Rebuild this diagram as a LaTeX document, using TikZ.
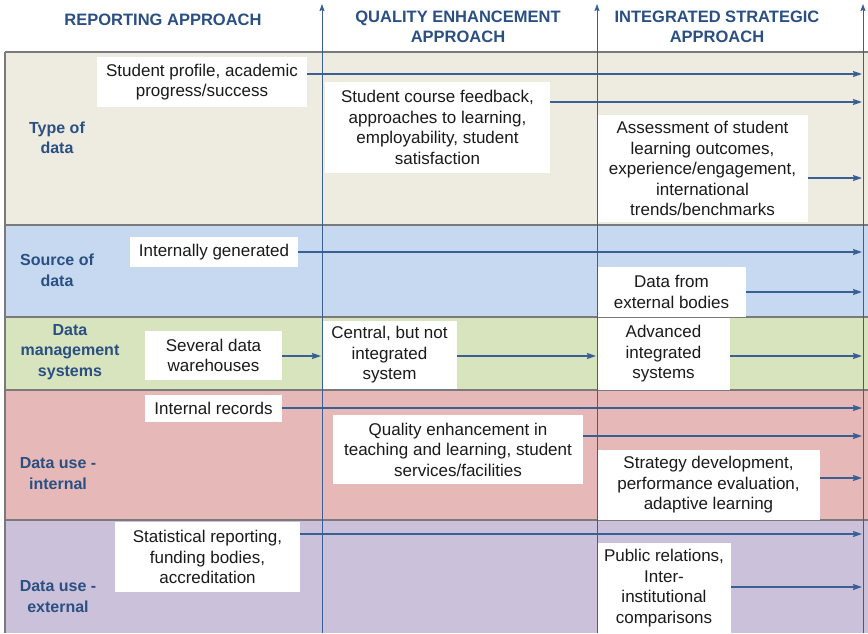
\documentclass[tikz,border=0pt]{standalone}
\usepackage{fontspec}
\setmainfont{Liberation Sans}
\usetikzlibrary{arrows.meta}
\definecolor{bandA}{HTML}{EEECE1}
\definecolor{bandB}{HTML}{C6D9F0}
\definecolor{bandC}{HTML}{D7E4BD}
\definecolor{bandD}{HTML}{E6B9B8}
\definecolor{bandE}{HTML}{CCC1DA}
\definecolor{arrblue}{HTML}{3A5F95}
\definecolor{headblue}{HTML}{2A4F82}
\definecolor{bordergray}{HTML}{7A7A7A}
\definecolor{boxtext}{HTML}{1A1A1A}
\newcommand\boxfnt{\fontsize{17}{20.5}\selectfont}
\newcommand\headfnt{\fontsize{16.5}{20}\selectfont\bfseries}
\newcommand\rowfnt{\fontsize{16}{20.5}\selectfont\bfseries}
\begin{document}
\begin{tikzpicture}[x=1pt,y=-1pt,
  wbox/.style={fill=white, inner sep=0pt, align=center, font=\boxfnt, text=boxtext},
  sz/.style 2 args={minimum width=#1pt, minimum height=#2pt},
  rowlab/.style={align=center, font=\rowfnt, text=headblue, inner sep=0pt},
  headlab/.style={align=center, font=\headfnt, text=headblue, inner sep=0pt},
  arr/.style={draw=arrblue, line width=1.4pt, -{Stealth[length=9pt,width=6pt,inset=1pt]}},
  varr/.style={draw=arrblue, line width=1pt, -{Stealth[length=7pt,width=5pt,inset=1pt]}},
  sep/.style={draw=bordergray, line width=1.2pt}]
\useasboundingbox (0,0) rectangle (868,633);
\fill[white] (0,0) rectangle (868,633);
% bands
\fill[bandA] (5,52) rectangle (868,225);
\fill[bandB] (5,225) rectangle (868,317);
\fill[bandC] (5,317) rectangle (868,390);
\fill[bandD] (5,390) rectangle (868,520);
\fill[bandE] (5,520) rectangle (868,633);
\draw[sep] (5,52) -- (868,52);
\draw[sep] (5,225) -- (868,225);
\draw[sep] (5,317) -- (868,317);
\draw[sep] (5,390) -- (868,390);
\draw[sep] (5,520) -- (868,520);
\draw[sep] (5,52) -- (5,633);
% boxes
\node[wbox, sz={210}{50}] (b1) at (202,82) {Student profile, academic\\progress/success};
\node[wbox, sz={225}{91}] (b2) at (437.5,127.5) {Student course feedback,\\approaches to learning,\\employability, student\\satisfaction};
\node[wbox, sz={211}{107}] (b3) at (702.5,168.5) {Assessment of student\\learning outcomes,\\experience/engagement,\\international\\trends/benchmarks};
\node[wbox, sz={168}{30}] (b4) at (214,252) {Internally generated};
\node[wbox, sz={149}{50}] (b5) at (671.5,292) {Data from\\external bodies};
\node[wbox, sz={137}{49}] (b6) at (213.5,355.5) {Several data\\warehouses};
\node[wbox, sz={135}{68}] (b7) at (389.5,355) {Central, but not\\integrated\\system};
\node[wbox, sz={133}{72}] (b8) at (663.5,354) {Advanced\\integrated\\systems};
\node[wbox, sz={137}{27}] (b9) at (213.5,408.5) {Internal records};
\node[wbox, sz={250}{69}] (b10) at (458,449.5) {Quality enhancement in\\teaching and learning, student\\services/facilities};
\node[wbox, sz={223}{70}] (b11) at (708.5,485) {Strategy development,\\performance evaluation,\\adaptive learning};
\node[wbox, sz={185}{70}] (b12) at (207.5,557) {Statistical reporting,\\funding bodies,\\accreditation};
\node[wbox, sz={134}{90}] (b13) at (664,588) {Public relations,\\Inter-\\institutional\\comparisons};
% vertical arrows
\coordinate (v1b) at (322,633); \coordinate (v1t) at (322,4);
\coordinate (v2b) at (597,633); \coordinate (v2t) at (597,4);
\coordinate (v3b) at (863,633); \coordinate (v3t) at (863,4);
\draw[varr] (v1b) -- (v1t);
\draw[varr] (v2b) -- (v2t);
\draw[varr] (v3b) -- (v3t);
% horizontal arrows
\coordinate (e1) at (862,74);
\coordinate (e2) at (862,102);
\coordinate (e3) at (862,178);
\coordinate (e4) at (862,252);
\coordinate (e5) at (862,292);
\coordinate (e6) at (321,356);
\coordinate (e7) at (596,356);
\coordinate (e8) at (862,356);
\coordinate (e9) at (862,408);
\coordinate (e10) at (862,436);
\coordinate (e11) at (862,478);
\coordinate (e12) at (862,534);
\coordinate (e13) at (862,587);
\draw[arr] (b1.east |- e1) -- (e1);
\draw[arr] (b2.east |- e2) -- (e2);
\draw[arr] (b3.east |- e3) -- (e3);
\draw[arr] (b4.east |- e4) -- (e4);
\draw[arr] (b5.east |- e5) -- (e5);
\draw[arr] (b6.east |- e6) -- (e6);
\draw[arr] (b7.east |- e7) -- (e7);
\draw[arr] (b8.east |- e8) -- (e8);
\draw[arr] (b9.east |- e9) -- (e9);
\draw[arr] (b10.east |- e10) -- (e10);
\draw[arr] (b11.east |- e11) -- (e11);
\draw[arr] (b12.east |- e12) -- (e12);
\draw[arr] (b13.east |- e13) -- (e13);
% headers
\node[headlab] (h1) at (163,20) {REPORTING APPROACH};
\node[headlab] (h2) at (458,27) {QUALITY ENHANCEMENT\\APPROACH};
\node[headlab] (h3) at (717,27) {INTEGRATED STRATEGIC\\APPROACH};
% row labels
\node[rowlab] (r1) at (57,138) {Type of\\data};
\node[rowlab] (r2) at (57,270.5) {Source of\\data};
\node[rowlab] (r3) at (70,352) {Data\\management\\systems};
\node[rowlab] (r4) at (58,473.5) {Data use -\\internal};
\node[rowlab] (r5) at (58,596.5) {Data use -\\external};
\end{tikzpicture}
\end{document}
